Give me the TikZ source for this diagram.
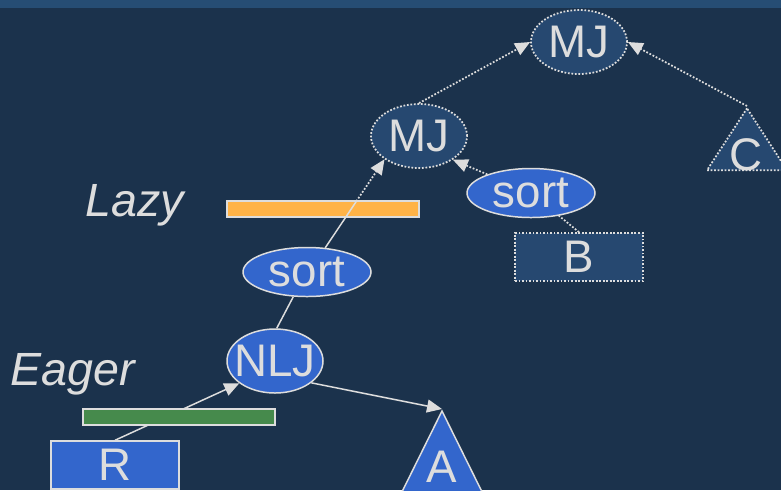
\documentclass[tikz,border=0pt]{standalone}
\usepackage{fontspec}
\setmainfont{Liberation Sans}
\usetikzlibrary{shapes,arrows.meta,calc}

\definecolor{slidebg}{RGB}{27,50,76}
\definecolor{slidebar}{RGB}{38,77,116}
\definecolor{opdark}{RGB}{38,72,112}
\definecolor{opblue}{RGB}{51,102,204}
\definecolor{linegray}{RGB}{221,221,221}
\definecolor{lazyorange}{RGB}{255,179,71}
\definecolor{eagergreen}{RGB}{70,138,76}

\tikzstyle{plain} = [draw=linegray, line width=0.85pt]
\tikzstyle{line} = [plain, -{Triangle[length=0.3cm,width=0.26cm]}]
\tikzstyle{dotline} = [line, line width=1pt, dash pattern=on 1pt off 1pt]
\tikzstyle{op} = [ellipse, draw=linegray, line width=0.85pt, fill=opblue, text=linegray, inner sep=0pt, minimum width=1.92cm, minimum height=1.28cm, font=\fontsize{26}{26}\selectfont]
\tikzstyle{op_dark} = [op, fill=opdark, line width=1pt, dash pattern=on 1pt off 1pt]
\tikzstyle{sort_op} = [op, minimum width=2.56cm, minimum height=0.98cm]
\tikzstyle{rel} = [rectangle, draw=linegray, line width=0.85pt, fill=opblue, text=linegray, inner sep=0pt, minimum width=2.56cm, minimum height=0.96cm, font=\fontsize{26}{26}\selectfont]
\tikzstyle{rel_dark} = [rel, fill=opdark, line width=1pt, dash pattern=on 1pt off 1pt]
\tikzstyle{tri} = [isosceles triangle, shape border rotate=90, isosceles triangle stretches, draw=linegray, line width=0.85pt, fill=opblue, inner sep=0pt]
\tikzstyle{tri_dark} = [tri, fill=opdark, line width=1pt, dash pattern=on 1pt off 1pt]
\tikzstyle{tri_text} = [anchor=base, inner sep=0pt, text=linegray, font=\fontsize{26}{26}\selectfont]
\tikzstyle{bar} = [rectangle, draw=linegray, line width=0.85pt, minimum width=3.84cm, minimum height=0.32cm, inner sep=0pt]
\tikzstyle{mode} = [text=linegray, inner sep=0pt, font=\fontsize{26.5}{26}\selectfont\itshape]

\begin{document}
\begin{tikzpicture}
	\useasboundingbox (0,0) rectangle (15.62,-9.8);
	\clip (0,0) rectangle (15.62,-9.8);
	\fill [slidebg] (0,0) rectangle (15.62,-9.8);
	\fill [slidebar] (0,0) rectangle (15.62,-0.16);
	
	% merge joins and C
	\node [op_dark] at (11.58,-0.84) (mjtop) {MJ};
	\node [op_dark, below of = mjtop, node distance = 1.88cm, xshift = -3.2cm] (mjmid) {MJ};
	\node [tri_dark, below of = mjtop, node distance = 1.28cm, xshift = 3.36cm, minimum width = 1.6cm, minimum height = 1.24cm, anchor = apex, label={[tri_text, yshift=0.02cm, xshift=-0.02cm]south:C}] (C) {};
	\path [dotline] (mjmid.north) to (mjtop.west);
	\path [dotline] (C.apex) to (mjtop.east);
	
	% B side
	\node [sort_op, below of = mjmid, node distance = 1.14cm, xshift = 2.24cm] (sortB) {sort};
	\node [rel_dark, below of = sortB, node distance = 1.28cm, xshift = 0.96cm] (B) {B};
	\path [plain, line width=1pt, dash pattern=on 1pt off 1pt] (B.north) to (sortB);
	\path [dotline] (sortB) to (mjmid.-35);
	
	% lazy part
	\node [sort_op, below of = mjmid, node distance = 2.72cm, xshift = -2.24cm] (sortL) {sort};
	\node [bar, fill=lazyorange, above of = sortL, node distance = 1.26cm, xshift = 0.32cm] (lazybar) {};
	\node [mode, left of = lazybar, node distance = 3.76cm, yshift = -0.14cm, anchor = base] (lazy) {Lazy};
	\coordinate (lz) at ($(sortL.53)!0.525!(mjmid.214)$);
	\path [plain] (sortL.53) to (lz);
	\path [dotline] (lz) to (mjmid.214);
	
	% eager part
	\node [op, below of = sortL, node distance = 1.78cm, xshift = -0.64cm, inner xsep = -0.14cm] (nlj) {NLJ};
	\path [plain] (sortL.241) to (nlj.87);
	\node [rel, below of = nlj, node distance = 2.08cm, xshift = -3.2cm] (R) {R};
	\path [line] (R.north) to (nlj.212);
	\node [bar, fill=eagergreen, below of = nlj, node distance = 1.12cm, xshift = -1.92cm] (eagerbar) {};
	\node [mode, above of = eagerbar, node distance = 0.64cm, xshift = -2.13cm, anchor = base] (eager) {Eager};
	\node [tri, below of = nlj, node distance = 0.96cm, xshift = 3.34cm, minimum width = 1.82cm, minimum height = 1.84cm, anchor = apex, label={[tri_text, yshift=0.42cm]south:A}] (A) {};
	\path [line] (nlj.-31) to (A.apex);
\end{tikzpicture}
\end{document}
